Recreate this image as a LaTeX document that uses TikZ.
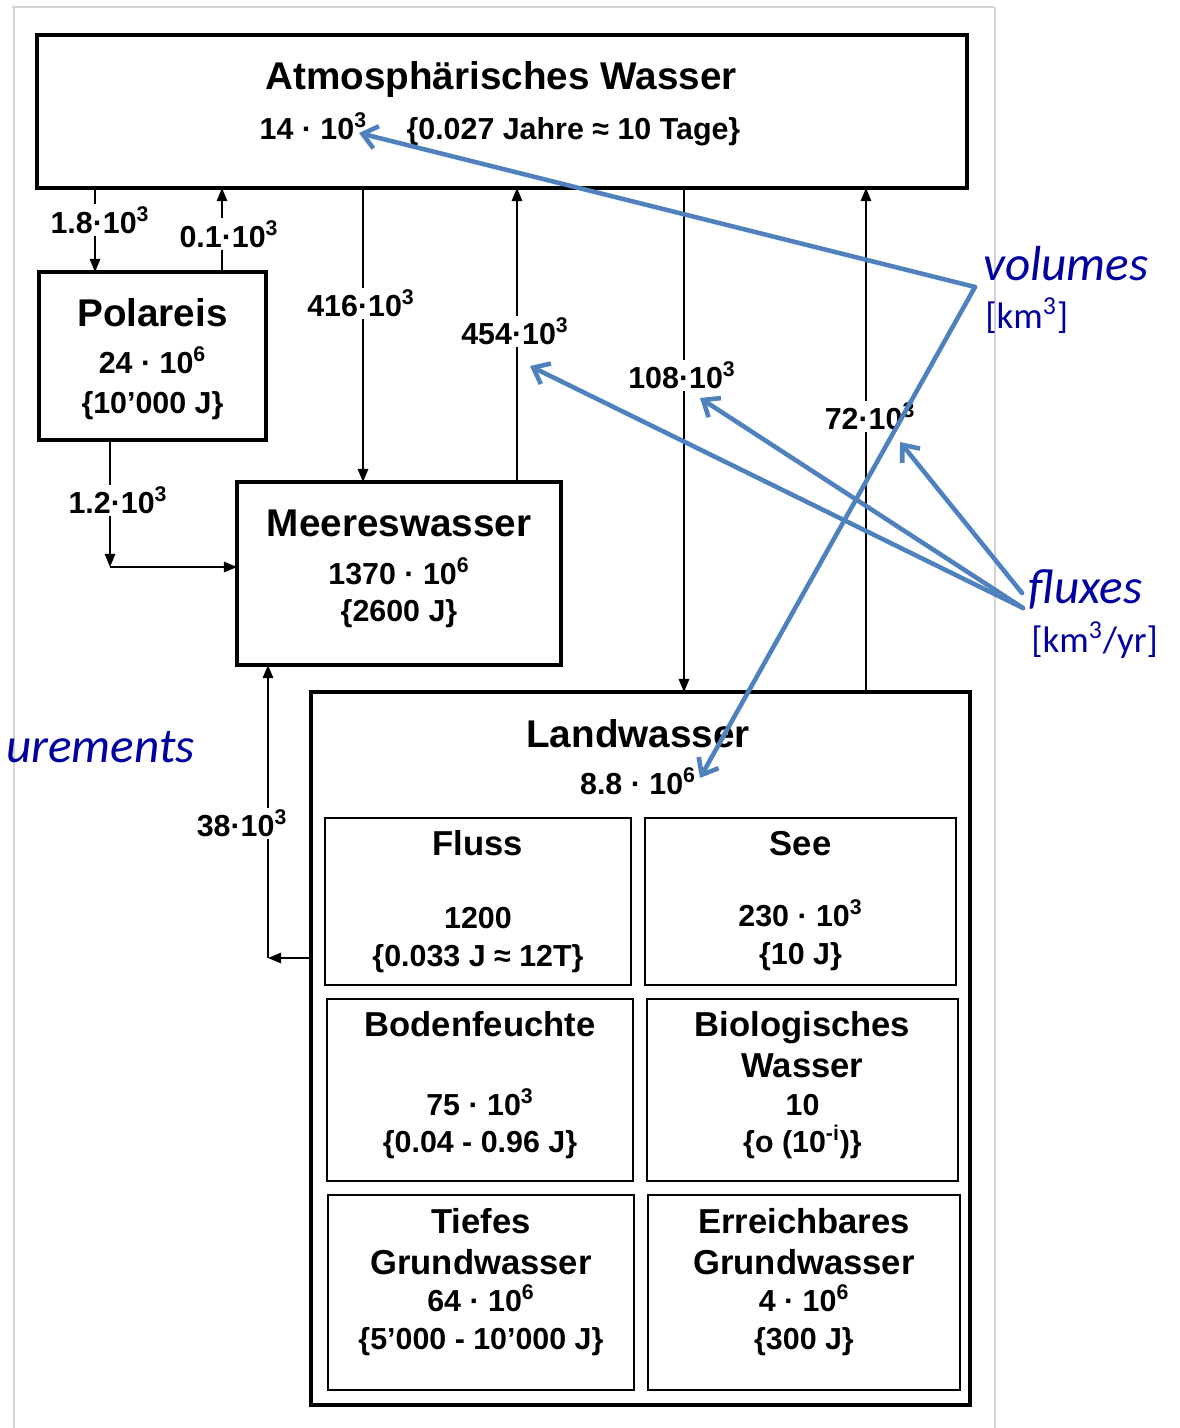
\documentclass[tikz,border=0pt]{standalone}
\usepackage{fontspec}
\setmainfont{Liberation Sans}
\newfontfamily\notefont{Carlito}
\usepackage{tikz}
\usetikzlibrary{arrows.meta, positioning}
\definecolor{noteline}{RGB}{79,129,189}
\definecolor{notetext}{RGB}{0,0,160}
\definecolor{scanedge}{RGB}{212,212,212}
\newcommand{\pw}[1]{10\textsuperscript{#1}}

\begin{document}
\begin{tikzpicture}[x=0.02cm, y=-0.02cm,
        mainbox/.style={rectangle, draw=black, line width=2pt, inner sep=0pt, outer sep=0pt},
        subbox/.style={rectangle, draw=black, line width=1.1pt, inner sep=0pt, outer sep=0pt},
        boxtitle/.style={font=\bfseries\fontsize{22}{26}\selectfont, anchor=base, inner sep=0pt},
        subtitle/.style={font=\bfseries\fontsize{19.7}{23}\selectfont, anchor=base, inner sep=0pt},
        amount/.style={font=\bfseries\fontsize{17.3}{20}\selectfont, anchor=base, inner sep=0pt},
        fluxlabel/.style={amount, fill=white, inner sep=1.5pt},
        flux/.style={-{Triangle[length=7.5pt,width=6pt]}, line width=0.8pt},
        remark/.style={-{Straight Barb[length=8pt,width=13pt]}, draw=noteline, line width=2.6pt, line cap=round, line join=round},
        remarktext/.style={text=notetext, font=\notefont\itshape\fontsize{28}{32}\selectfont, anchor=base west, inner sep=0pt},
        unittext/.style={text=notetext, font=\notefont\fontsize{21}{25}\selectfont, anchor=base west, inner sep=0pt}
    ]
            \useasboundingbox (0,0) rectangle (1180,1428);

            % edge of the scanned page
            \draw[scanedge, line width=0.6pt] (12,7) -- (994,7);
            \draw[scanedge, line width=0.6pt] (14,7) -- (14,1428);
            \draw[scanedge, line width=0.6pt] (995,7) -- (995,1428);

            % Reservoirs
            \node[mainbox, minimum width=18.6cm, minimum height=3.06cm] (atm) at (502,111.5) {};
            \node[boxtitle] (atmtitle) at (501,89) {Atmosphärisches Wasser};
            \node[amount] (atmval) at (500,139) {14 · \pw{3}\hspace{1.3em}\{0.027 Jahre ≈ 10 Tage\}};

            \node[mainbox, minimum width=4.54cm, minimum height=3.36cm] (pol) at (152.5,356) {};
            \node[boxtitle] (poltitle) at (152.5,326) {Polareis};
            \node[amount] (polval) at (152.5,373) {24 · \pw{6}};
            \node[amount] (poltime) at (152.5,413) {\{10’000 J\}};

            \node[mainbox, minimum width=6.48cm, minimum height=3.66cm] (meer) at (399,573.5) {};
            \node[boxtitle] (meertitle) at (399,536) {Meereswasser};
            \node[amount] (meerval) at (399,584) {1370 · \pw{6}};
            \node[amount] (meertime) at (399,621) {\{2600 J\}};

            \node[mainbox, minimum width=13.18cm, minimum height=14.26cm] (land) at (640.5,1048.5) {};
            \node[boxtitle] (landtitle) at (638,747) {Landwasser};
            \node[amount] (landval) at (638,794) {8.8 · \pw{6}};

            % Parts of Landwasser
            \node[subbox, minimum width=6.12cm, minimum height=3.34cm] (fluss) at (478,901.5) {};
            \node[subtitle] at (478,855) {Fluss};
            \node[amount] at (478,928) {1200};
            \node[amount] at (478,966) {\{0.033 J ≈ 12T\}};

            \node[subbox, minimum width=6.22cm, minimum height=3.34cm] (see) at (800.5,901.5) {};
            \node[subtitle] at (800.5,855) {See};
            \node[amount] at (800.5,926) {230 · \pw{3}};
            \node[amount] at (800.5,964) {\{10 J\}};

            \node[subbox, minimum width=6.12cm, minimum height=3.64cm] (boden) at (480,1090) {};
            \node[subtitle] at (480,1036) {Bodenfeuchte};
            \node[amount] at (480,1115) {75 · \pw{3}};
            \node[amount] at (480,1152) {\{0.04 - 0.96 J\}};

            \node[subbox, minimum width=6.22cm, minimum height=3.64cm] (bio) at (802.5,1090) {};
            \node[subtitle] at (802.5,1036) {Biologisches};
            \node[subtitle] at (802.5,1077) {Wasser};
            \node[amount] at (802.5,1115) {10};
            \node[amount] at (802.5,1152) {\{o (\pw{-i})\}};

            \node[subbox, minimum width=6.12cm, minimum height=3.9cm] (tief) at (481,1292.5) {};
            \node[subtitle] at (481,1233) {Tiefes};
            \node[subtitle] at (481,1274) {Grundwasser};
            \node[amount] at (481,1311) {64 · \pw{6}};
            \node[amount] at (481,1349) {\{5’000 - 10’000 J\}};

            \node[subbox, minimum width=6.24cm, minimum height=3.9cm] (erreich) at (804,1292.5) {};
            \node[subtitle] at (804,1233) {Erreichbares};
            \node[subtitle] at (804,1274) {Grundwasser};
            \node[amount] at (804,1311) {4 · \pw{6}};
            \node[amount] at (804,1349) {\{300 J\}};

            % Fluxes
            \draw[flux] (atm.south -| 95,0) -- (pol.north -| 95,0);
            \node[fluxlabel] (f18) at (100,233) {1.8·\pw{3}};
            \draw[flux] (pol.north -| 222,0) -- (atm.south -| 222,0);
            \node[fluxlabel] (f01) at (229,247) {0.1·\pw{3}};
            \draw[flux] (atm.south -| 363,0) -- (meer.north -| 363,0);
            \node[fluxlabel] (f416) at (361,316) {416·\pw{3}};
            \draw[flux] (meer.north -| 517,0) -- (atm.south -| 517,0);
            \node[fluxlabel] (f454) at (515,344) {454·\pw{3}};
            \draw[flux] (atm.south -| 684,0) -- (land.north -| 684,0);
            \node[fluxlabel] (f108) at (682,388) {108·\pw{3}};
            \draw[flux] (land.north -| 866,0) -- (atm.south -| 866,0);
            \node[fluxlabel] (f72) at (870,429) {72·\pw{3}};

            \coordinate (c12) at (110,567);
            \draw[flux] (pol.south -| c12) -- (c12);
            \draw[flux] (c12) -- (c12 -| meer.west);
            \node[fluxlabel] (f12) at (118,513) {1.2·\pw{3}};

            \coordinate (c38) at (268,958);
            \draw[flux] (c38 -| land.west) -- (c38);
            \draw[flux] (c38) -- (c38 |- meer.south);
            \node[fluxlabel] (f38) at (242,836) {38·\pw{3}};

            % Remarks
            \node[remarktext] (vol) at (983,280) {volumes};
            \node[unittext] (volunit) at (985,328) {[km\textsuperscript{3}]};
            \node[remarktext] (flx) at (1028,603) {fluxes};
            \node[unittext] (flxunit) at (1031,652) {[km\textsuperscript{3}/yr]};
            \node[remarktext, anchor=base east] (meas) at (195,762) {urements};

            \coordinate (volsrc) at (975,287);
            \coordinate (flxsrc) at (1023,608);
            \coordinate (flxsrcb) at (1022,593);
            \coordinate (tipatm) at (359,133);
            \coordinate (tipland) at (700,778);
            \coordinate (tip454) at (530,366);
            \coordinate (tip108) at (700,398);
            \coordinate (tip72) at (900,442);

            \draw[remark] (volsrc) -- (tipatm);
            \draw[remark] (volsrc) -- (tipland);
            \draw[remark] (flxsrc) -- (tip454);
            \draw[remark] (flxsrc) -- (tip108);
            \draw[remark] (flxsrcb) -- (tip72);
    \end{tikzpicture}
\end{document}
